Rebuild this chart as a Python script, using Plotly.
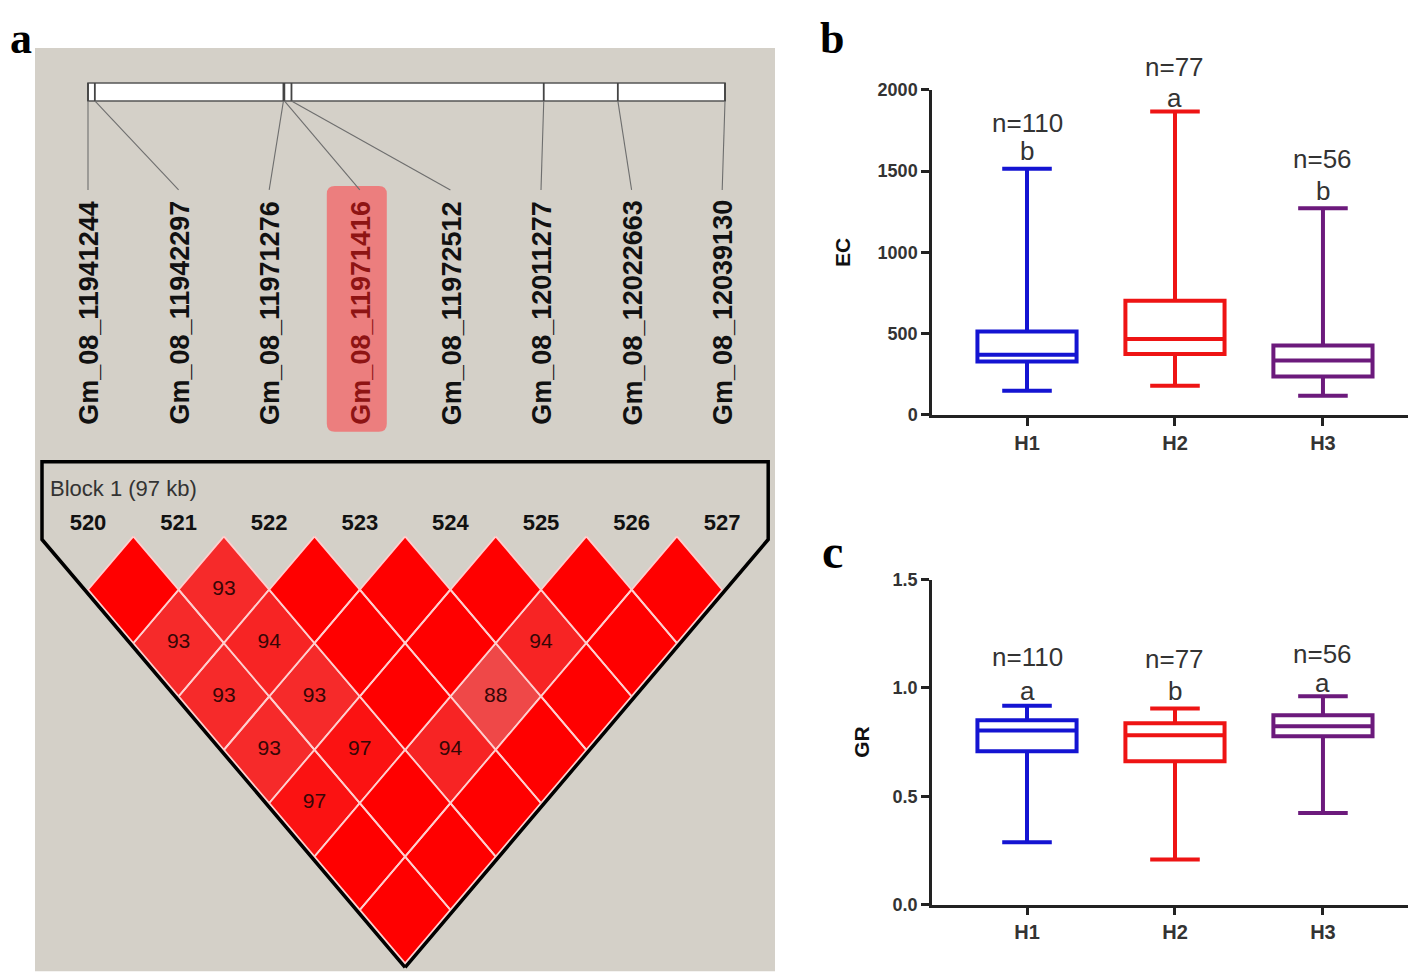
"""
LD block (Haploview style) + EC / GR box plots by haplotype
"""
import plotly.graph_objects as go

# ---------------- data ----------------
snp_names = ["Gm_08_11941244", "Gm_08_11942297", "Gm_08_11971276", "Gm_08_11971416",
             "Gm_08_11972512", "Gm_08_12011277", "Gm_08_12022663", "Gm_08_12039130"]
snp_pos = [11941244, 11942297, 11971276, 11971416, 11972512, 12011277, 12022663, 12039130]
marker_ids = [520, 521, 522, 523, 524, 525, 526, 527]
highlight_snp = 3
block_label = "Block 1 (97 kb)"

# pairwise D' x100 ; pairs not listed are 100 (no number shown)
ld_dprime = {(1, 2): 93, (0, 2): 93, (1, 3): 94, (4, 6): 94, (0, 3): 93, (1, 4): 93,
             (3, 6): 88, (0, 4): 93, (1, 5): 97, (2, 6): 94, (0, 5): 97}

haplotypes = ["H1", "H2", "H3"]
hap_n = [110, 77, 56]
hap_colors = ["#1414D2", "#EE1414", "#6C1A7C"]

ec_low = [148, 178, 117]
ec_q1 = [328, 375, 236]
ec_med = [369, 466, 334]
ec_q3 = [513, 702, 427]
ec_high = [1515, 1867, 1272]
ec_letters = ["b", "a", "b"]
ec_n_y = [1793, 2135, 1571]
ec_letter_y = [1620, 1951, 1374]

gr_low = [0.288, 0.208, 0.423]
gr_q1 = [0.708, 0.662, 0.777]
gr_med = [0.803, 0.782, 0.823]
gr_q3 = [0.851, 0.837, 0.874]
gr_high = [0.918, 0.905, 0.962]
gr_letters = ["a", "b", "a"]
gr_n_y = [1.138, 1.129, 1.152]
gr_letter_y = [0.986, 0.986, 1.023]

# ---------------- page placement ----------------
W, H = 1416, 974
# the page is shown shifted / slightly squeezed: compensate so target pixels line up
OX, OY, SY = 8, 18, 0.98


def fx(x):
    return (x - OX) / W


def fy(y):
    return 1 - (y - OY) / (SY * H)


# ---------------- panel a geometry (target-pixel units on x3/y3) ----------------
PA_X0, PA_X1, PA_Y0, PA_Y1 = 35, 775, 48, 972
X_FIRST, X_STEP = 88.0, 90.6
BAR_X0, BAR_X1, BAR_Y0, BAR_Y1 = 88.0, 725.0, 83, 101
LINK_Y, LABEL_Y = 190, 313
CELL_W, CELL_H, ROW0_Y = X_STEP / 2, 53.4, 590
FRAME_Y = 462

SANS = "Liberation Sans, Arial, sans-serif"
SERIF = "Liberation Serif, Times New Roman, serif"

n_snp = len(snp_names)
label_x = [X_FIRST + k * X_STEP for k in range(n_snp)]
span = snp_pos[-1] - snp_pos[0]
bar_x = [BAR_X0 + (p - snp_pos[0]) / span * (BAR_X1 - BAR_X0) for p in snp_pos]


def cell_color(v):
    t = min(max((100 - v) / 15.0, 0), 1)
    r = round(255 - 20 * t)
    g = round(90 * t)
    return f"rgb({r},{g},{g})"


fig = go.Figure()

# background of panel a
fig.add_shape(type="rect", xref="x3", yref="y3", x0=PA_X0, x1=PA_X1, y0=PA_Y0, y1=PA_Y1,
              fillcolor="#D4D0C8", line_width=0, layer="below")

# chromosome bar
fig.add_shape(type="rect", xref="x3", yref="y3", x0=BAR_X0, x1=BAR_X1, y0=BAR_Y0, y1=BAR_Y1,
              fillcolor="white", line=dict(color="#555", width=1.5), layer="below")
tx, ty = [], []
for bx in bar_x:
    tx += [bx, bx, None]
    ty += [BAR_Y0, BAR_Y1, None]
fig.add_trace(go.Scatter(x=tx, y=ty, mode="lines", line=dict(color="#444", width=1.8),
                         xaxis="x3", yaxis="y3", hoverinfo="skip"))

# highlight box behind the selected SNP label
hx0, hx1 = label_x[highlight_snp] - 33, label_x[highlight_snp] + 27
hy0, hy1, r = 186, 432, 8
fig.add_shape(type="path", xref="x3", yref="y3", layer="below", line_width=0, fillcolor="#EC7E7E",
              path=(f"M {hx0+r},{hy0} L {hx1-r},{hy0} Q {hx1},{hy0} {hx1},{hy0+r} "
                    f"L {hx1},{hy1-r} Q {hx1},{hy1} {hx1-r},{hy1} L {hx0+r},{hy1} "
                    f"Q {hx0},{hy1} {hx0},{hy1-r} L {hx0},{hy0+r} Q {hx0},{hy0} {hx0+r},{hy0} Z"))

# connectors bar -> labels
cx_, cy_ = [], []
for bx, lx in zip(bar_x, label_x):
    cx_ += [bx, lx, None]
    cy_ += [BAR_Y1, LINK_Y, None]
fig.add_trace(go.Scatter(x=cx_, y=cy_, mode="lines", line=dict(color="#6E6E6E", width=1.1),
                         xaxis="x3", yaxis="y3", hoverinfo="skip"))

# SNP names (rotated)
for k, name in enumerate(snp_names):
    fig.add_annotation(x=label_x[k] + 1, y=LABEL_Y, xref="x3", yref="y3", text=name,
                       textangle=-90, showarrow=False, xanchor="center", yanchor="middle",
                       font=dict(family=SANS, size=27, weight="bold",
                                 color="#8E1414" if k == highlight_snp else "#111"))

# LD diamonds, grouped by value
groups = {}
for i in range(n_snp):
    for j in range(i + 1, n_snp):
        v = ld_dprime.get((i, j), 100)
        cx = X_FIRST + (i + j) / 2 * X_STEP
        cy = ROW0_Y + (j - i - 1) * CELL_H
        gx, gy = groups.setdefault(v, ([], []))
        gx += [cx, cx + CELL_W, cx, cx - CELL_W, cx, None]
        gy += [cy - CELL_H, cy, cy + CELL_H, cy, cy - CELL_H, None]
for v, (gx, gy) in sorted(groups.items()):
    fig.add_trace(go.Scatter(x=gx, y=gy, mode="lines", fill="toself", fillcolor=cell_color(v),
                             line=dict(color="#FFCFCF", width=1.8), xaxis="x3", yaxis="y3",
                             hoverinfo="skip"))

# D' numbers
nx, ny, nt = [], [], []
for (i, j), v in ld_dprime.items():
    nx.append(X_FIRST + (i + j) / 2 * X_STEP)
    ny.append(ROW0_Y + (j - i - 1) * CELL_H)
    nt.append(str(v))
fig.add_trace(go.Scatter(x=nx, y=ny, mode="text", text=nt, xaxis="x3", yaxis="y3",
                         textfont=dict(family=SANS, size=21, color="#360606"), hoverinfo="skip"))

# block frame
apex_x = X_FIRST + (n_snp - 1) / 2 * X_STEP
apex_y = ROW0_Y + (n_snp - 1) * CELL_H + 4
fl, fr = label_x[0] - 46, label_x[-1] + 46
slope = CELL_H / CELL_W
fig.add_trace(go.Scatter(
    x=[apex_x, fl, fl, fr, fr, apex_x],
    y=[apex_y, apex_y - (apex_x - fl) * slope, FRAME_Y, FRAME_Y,
       apex_y - (fr - apex_x) * slope, apex_y],
    mode="lines", line=dict(color="black", width=3.5), xaxis="x3", yaxis="y3", hoverinfo="skip"))

# marker ids
fig.add_trace(go.Scatter(x=label_x, y=[525] * n_snp, mode="text", text=[str(m) for m in marker_ids],
                         textfont=dict(family=SANS, size=22, weight="bold", color="#111"),
                         xaxis="x3", yaxis="y3", hoverinfo="skip"))
fig.add_annotation(x=48, y=489, xref="x3", yref="y3", text=block_label, showarrow=False,
                   xanchor="left", yanchor="middle", font=dict(family=SANS, size=22, color="#333"))


# ---------------- box plots ----------------
def add_boxes(xa, ya, y_top, px_top, px_bot, low, q1, med, q3, high, letters, n_y, letter_y):
    ppu = (px_bot - px_top) / SY / y_top        # figure pixels per data unit
    for k, h in enumerate(haplotypes):
        fig.add_trace(go.Box(x=[h], q1=[q1[k]], median=[med[k]], q3=[q3[k]],
                             lowerfence=[low[k]], upperfence=[high[k]], xaxis=xa, yaxis=ya,
                             line=dict(color=hap_colors[k], width=4), fillcolor="white",
                             width=0.67, whiskerwidth=0.5, boxpoints=False, hoverinfo="skip"))
        # labels are anchored on the whisker cap (inside the axis range) and shifted up
        for txt, ty_ in [(f"n={hap_n[k]}", n_y[k]), (letters[k], letter_y[k])]:
            fig.add_annotation(x=h, y=high[k], xref=xa, yref=ya, text=txt, showarrow=False,
                               yanchor="middle", yshift=(ty_ - high[k]) * ppu,
                               font=dict(family=SANS, size=26, color="#333"))


add_boxes("x", "y", 2000, 90, 415, ec_low, ec_q1, ec_med, ec_q3, ec_high,
          ec_letters, ec_n_y, ec_letter_y)
add_boxes("x2", "y2", 1.5, 580, 905, gr_low, gr_q1, gr_med, gr_q3, gr_high,
          gr_letters, gr_n_y, gr_letter_y)

# panel letters
fig.add_annotation(x=0, y=1, xref="paper", yref="paper", text="a", showarrow=False,
                   xanchor="left", yanchor="top", yshift=6,
                   font=dict(family=SERIF, size=44, weight="bold", color="black"))
fig.add_annotation(x=fx(832), y=1, xref="paper", yref="paper", text="b", showarrow=False,
                   xanchor="center", yanchor="top", yshift=6,
                   font=dict(family=SERIF, size=44, weight="bold", color="black"))
fig.add_annotation(x=fx(832), y=fy(552), xref="paper", yref="paper", text="c", showarrow=False,
                   xanchor="center", yanchor="middle",
                   font=dict(family=SERIF, size=48, weight="bold", color="black"))

ax = dict(showline=True, linecolor="#222", linewidth=2.5, ticks="outside", ticklen=8,
          tickwidth=2.5, tickcolor="#222", showgrid=False, zeroline=False, fixedrange=True)
xdom = [fx(932), fx(1415)]
xcat = dict(type="category", categoryarray=haplotypes, range=[-0.642, 2.622],
            tickfont=dict(family=SANS, size=20, weight="bold", color="#333"))
ytick = dict(family=SANS, size=18, weight="bold", color="#333")

fig.update_layout(
    width=W, height=H, margin=dict(l=0, r=0, t=0, b=0),
    paper_bgcolor="white", plot_bgcolor="white", showlegend=False,
    xaxis=dict(domain=xdom, anchor="y", **xcat, **ax),
    yaxis=dict(domain=[fy(415), fy(90)], anchor="x", range=[0, 2000],
               tickvals=[0, 500, 1000, 1500, 2000], tickfont=ytick,
               title=dict(text="EC", font=dict(family=SANS, size=21, weight="bold", color="#111"),
                          standoff=22), **ax),
    xaxis2=dict(domain=xdom, anchor="y2", **xcat, **ax),
    yaxis2=dict(domain=[fy(905), fy(580)], anchor="x2", range=[0, 1.5],
                tickvals=[0, 0.5, 1.0, 1.5], tickformat=".1f", tickfont=ytick,
                title=dict(text="GR", font=dict(family=SANS, size=21, weight="bold", color="#111"),
                           standoff=18), **ax),
    xaxis3=dict(domain=[fx(PA_X0), fx(PA_X1)], anchor="y3", range=[PA_X0, PA_X1], visible=False,
                fixedrange=True),
    yaxis3=dict(domain=[max(fy(PA_Y1), 0), fy(PA_Y0)], anchor="x3", range=[PA_Y1, PA_Y0],
                visible=False, fixedrange=True),
)

fig.write_html("out.html")
